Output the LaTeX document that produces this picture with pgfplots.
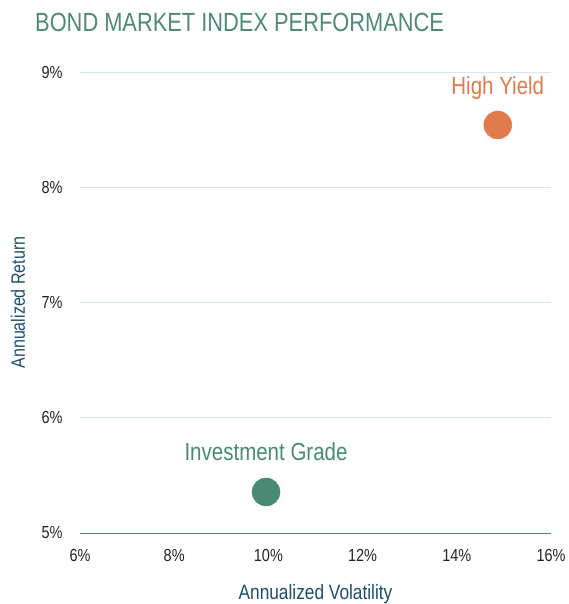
\documentclass[border=0pt]{standalone}
\usepackage{fontspec}
\setmainfont{Liberation Sans}[FakeStretch=0.83]
\usepackage{pgfplots}
\pgfplotsset{compat=1.18}
\definecolor{titlegreen}{HTML}{4E8A76}
\definecolor{iggreen}{HTML}{4A8A74}
\definecolor{hyorange}{HTML}{E07B4C}
\definecolor{labblue}{HTML}{1D4E6B}
\definecolor{gridblue}{HTML}{D6E7EF}
\definecolor{baseblue}{HTML}{5B7C90}
\definecolor{ticktext}{HTML}{222222}
\begin{document}
\begin{tikzpicture}
\path[use as bounding box] (-80bp,-71bp) rectangle (489bp,533bp);
\begin{axis}[
  at={(0,0)}, anchor=south west,
  scale only axis, width=471bp, height=461bp,
  xmin=6, xmax=16, ymin=5, ymax=9,
  xtick={6,8,...,16}, ytick={5,6,7,8,9},
  xticklabel={\pgfmathprintnumber{\tick}\%},
  yticklabel={\pgfmathprintnumber{\tick}\%},
  /pgf/number format/assume math mode=true,
  ticklabel style={font=\fontsize{17.5}{19}\selectfont, text=ticktext},
  xticklabel style={yshift=-13bp},
  yticklabel style={xshift=-14bp},
  major tick length=0pt,
  axis x line*=bottom, axis y line*=left,
  x axis line style={draw=baseblue, line width=1pt, -},
  y axis line style={draw=none},
  ymajorgrids, major grid style={draw=gridblue, line width=0.8pt},
  xlabel={Annualized Volatility}, ylabel={Annualized Return},
  xlabel style={font=\fontsize{20.9}{23}\selectfont, text=labblue, at={(axis description cs:0.5,0)}, anchor=base, yshift=-66bp},
  ylabel style={font=\fontsize{19.4}{21}\selectfont, text=labblue, at={(axis description cs:0,0.5)}, anchor=base, yshift=55bp},
  clip=false,
  nodes near coords,
  point meta=explicit symbolic,
  nodes near coords style={anchor=base, yshift=31bp, font=\fontsize{24.8}{27}\selectfont},
]
\addplot[only marks, mark=*, mark size=14bp, color=iggreen, fill=iggreen,
  nodes near coords style={text=iggreen}]
  coordinates {(9.95,5.356) [Investment Grade]};
\addplot[only marks, mark=*, mark size=14bp, color=hyorange, fill=hyorange,
  nodes near coords style={text=hyorange}]
  coordinates {(14.87,8.54) [High Yield]};
\end{axis}
\node[anchor=base west, text=titlegreen, font=\fontsize{26.4}{30}\selectfont, inner sep=0pt]
  at (-45bp,501bp) {BOND MARKET INDEX PERFORMANCE};
\end{tikzpicture}
\end{document}
